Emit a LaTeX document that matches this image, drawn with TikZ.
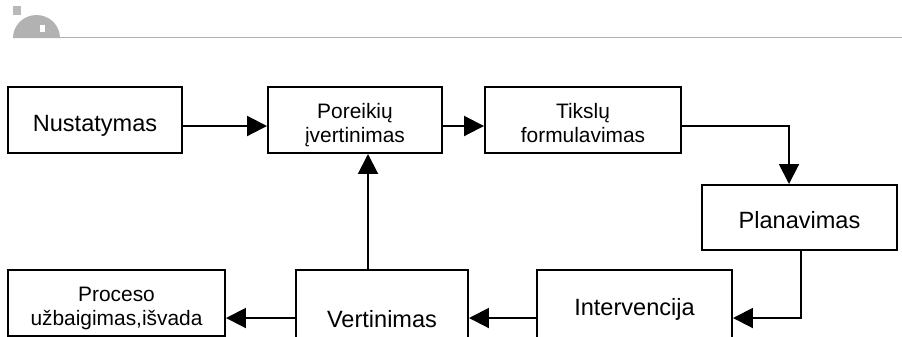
\documentclass[tikz,border=0pt]{standalone}
\usepackage{fontspec}
\setmainfont{Liberation Sans}
\usetikzlibrary{arrows.meta}
\begin{document}
\begin{tikzpicture}[x=0.02cm,y=-0.02cm,
 box/.style={draw,line width=0.04cm,align=center,inner sep=0pt,text height=0.44cm,text depth=0pt,font=\fontsize{13.4}{15}\selectfont},
 smallbox/.style={box,text height=0.89cm,font=\fontsize{11.9}{13.3}\selectfont},
 arr/.style={line width=0.04cm,-{Triangle[length=0.4cm,width=0.4cm]}}]
 \useasboundingbox (0,0) rectangle (902,336);
 \clip (0,0) rectangle (902,336);
 % header
 \fill[white] (0,0) rectangle (902,336);
 \fill[gray!55] (13,6) rectangle (21,15);
 \fill[gray!60] (13,38) arc (180:360:23.5 and 23) -- cycle;
 \fill[white] (40,25) rectangle (45,32);
 \draw[gray!60,line width=0.035cm] (13,37.5) -- (902,37.5);
 % boxes
 \node[box,minimum width=3.48cm,minimum height=1.32cm] (nust) at (95,120) {Nustatymas};
 \node[smallbox,minimum width=3.48cm,minimum height=1.32cm] (poreik) at (355,120) {Poreikių\\įvertinimas};
 \node[smallbox,minimum width=3.92cm,minimum height=1.32cm] (tiksl) at (583,120) {Tikslų\\formulavimas};
 \node[box,minimum width=3.9cm,minimum height=1.3cm] (plan) at (799.5,217.5) {Planavimas};
 \node[box,minimum width=3.9cm,minimum height=1.38cm] (interv) at (634.5,304.5) {Intervencija};
 \node[box,minimum width=3.44cm,minimum height=1.86cm] (vert) at (382,316.5) {Vertinimas};
 \node[smallbox,minimum width=4.34cm,minimum height=1.32cm] (proc) at (116.5,303) {Proceso\\užbaigimas,išvada};
 % arrows
 \draw[arr] ([yshift=-0.12cm]nust.east) -- ([yshift=-0.12cm]poreik.west);
 \draw[arr] ([yshift=-0.12cm]poreik.east) -- ([yshift=-0.12cm]tiksl.west);
 \draw[arr] ([yshift=-0.12cm]tiksl.east) -| ([xshift=-0.21cm]plan.north);
 \draw[arr] ([xshift=0.03cm]plan.south) |- ([yshift=-0.27cm]interv.east);
 \draw[arr] ([yshift=-0.27cm]interv.west) -- ([yshift=-0.27cm]interv.west -| vert.east);
 \draw[arr] ([yshift=-0.03cm]vert.west) -- ([yshift=-0.03cm]vert.west -| proc.east);
 \draw[arr] ([xshift=-0.28cm]vert.north) -- ([xshift=-0.28cm]vert.north |- poreik.south);
\end{tikzpicture}
\end{document}
